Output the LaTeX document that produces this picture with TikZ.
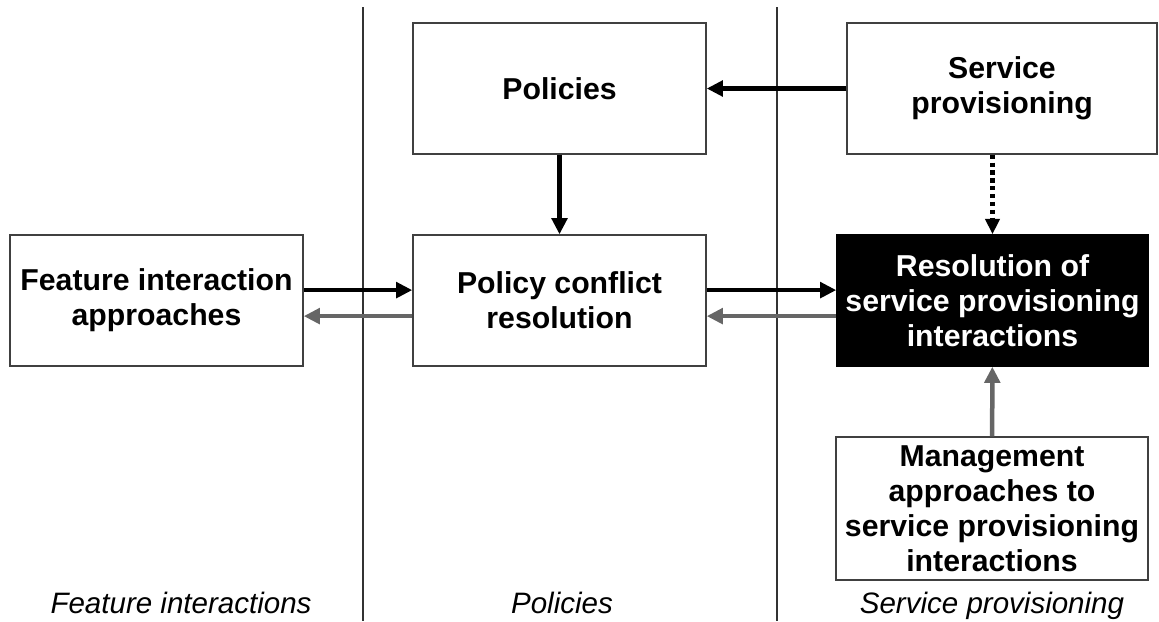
\documentclass[tikz,border=0pt]{standalone}
\usepackage{fontspec}
\setmainfont{Liberation Sans}
\usetikzlibrary{arrows.meta}

\tikzset{
  box/.style={draw=black!75, line width=1pt, fill=white, align=center,
    font=\fontsize{21.5}{25}\selectfont\bfseries,
    minimum width=7.325cm, minimum height=3.275cm, inner sep=0pt},
  darkbox/.style={box, fill=black, text=white, draw=black},
  blk/.style={line width=3.2pt, -{Triangle[length=11.5pt,width=11pt]}},
  gry/.style={blk, draw=black!60, color=black!60},
  dots/.style={line width=3pt, dash pattern=on 3pt off 2.6pt,
    -{Triangle[length=11pt,width=10pt]}},
  sidelabel/.style={font=\fontsize{21}{25}\selectfont\itshape, anchor=base}
}

\begin{document}
\begin{tikzpicture}[x=0.025cm, y=-0.025cm]

    \useasboundingbox (0,0) rectangle (1159,621);

    \draw[black!80, line width=0.9pt] (363,7) -- (363,621);
    \draw[black!80, line width=0.9pt] (777,7) -- (777,621);

    \node[box] (pol) at (559.5,88.5) {Policies};
    \node[box, minimum width=7.75cm] (sp) at (1002,88.5) {Service\\provisioning};
    \node[box] (fi) at (156.5,300.5) {Feature interaction\\approaches};
    \node[box] (pcr) at (559.5,300.5) {Policy conflict\\resolution};
    \node[darkbox, minimum width=7.775cm] (res) at (992.5,300.5)
      {Resolution of\\service provisioning\\interactions};
    \node[box, minimum width=7.8cm, minimum height=3.575cm] (mgmt) at (992,508.5)
      {Management\\approaches to\\service provisioning\\interactions};

    \draw[blk] (sp.west |- pol.east) -- (pol.east);
    \draw[blk] (pol) -- (pcr);
    \draw[dots] (res.north |- sp.south) -- (res.north);
    \draw[blk] ([yshift=0.26cm]fi.east) -- ([yshift=0.26cm]pcr.west);
    \draw[gry] ([yshift=-0.39cm]pcr.west) -- ([yshift=-0.39cm]fi.east);
    \draw[blk] ([yshift=0.26cm]pcr.east) -- ([yshift=0.26cm]res.west);
    \draw[gry] ([yshift=-0.39cm]res.west) -- ([yshift=-0.39cm]pcr.east);
    \draw[gry] (mgmt) -- (res);

    \node[sidelabel] (lfi) at (181,613) {Feature interactions};
    \node[sidelabel] (lpol) at (562,613) {Policies};
    \node[sidelabel] (lsp) at (992,613) {Service provisioning};

  \end{tikzpicture}
\end{document}
